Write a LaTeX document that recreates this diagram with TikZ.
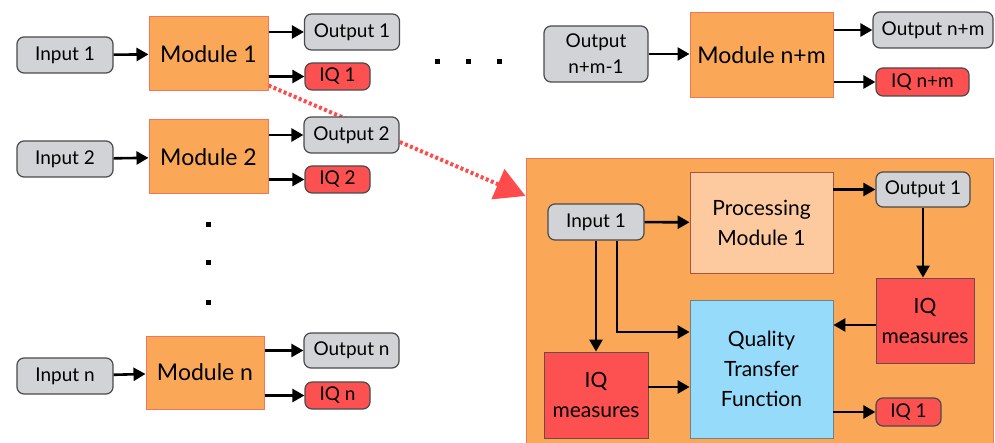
\documentclass[tikz,border=0pt]{standalone}
\usepackage{fontspec}
\setmainfont{Lato}
\usetikzlibrary{arrows.meta,backgrounds}

\definecolor{modfill}{HTML}{FAA858}
\definecolor{modline}{HTML}{F4765A}
\definecolor{datfill}{HTML}{D1D3D7}
\definecolor{datline}{HTML}{4A4A4A}
\definecolor{iqfill}{HTML}{FC5150}
\definecolor{procfill}{HTML}{FDCAA0}
\definecolor{qtffill}{HTML}{97DBFA}
\definecolor{zoomred}{HTML}{FF4B4B}

\begin{document}
\begin{tikzpicture}[x=1pt, y=-1pt,
    every node/.style={inner sep=0pt, align=center},
    module/.style={draw=modline, fill=modfill, line width=1pt, font=\fontsize{23}{28}\selectfont},
    datum/.style={draw=datline, fill=datfill, rounded corners=7pt, line width=1.2pt, font=\fontsize{19}{26}\selectfont},
    iq/.style={datum, fill=iqfill},
    bigiq/.style={draw=datline!80!iqfill, fill=iqfill, line width=0.8pt, font=\fontsize{21}{30}\selectfont},
    flow/.style={-{Triangle[length=12pt,width=13pt]}, line width=2.6pt},
    zoom/.style={-{Triangle[length=30pt,width=32pt]}, zoomred, line width=4pt, dash pattern=on 3pt off 2.5pt}
]
    \useasboundingbox (0,0) rectangle (995,443);

    % Module 1
    \node[datum, minimum width=96pt, minimum height=36pt] (in1) at (65,55) {Input 1};
    \node[module, minimum width=119pt, minimum height=74pt] (mod1) at (208.5,54) {Module 1};
    \node[datum, minimum width=95pt, minimum height=36pt] (out1) at (352,32) {Output 1};
    \node[iq, minimum width=65pt, minimum height=27pt] (iq1) at (337.5,76.5) {IQ 1};
    \draw[flow] (in1) -- (mod1);
    \draw[flow] (mod1.east |- out1) -- (out1);
    \draw[flow] (mod1.east |- iq1) -- (iq1);

    % Module 2
    \node[datum, minimum width=96pt, minimum height=36pt] (in2) at (65,159) {Input 2};
    \node[module, minimum width=119pt, minimum height=74pt] (mod2) at (208.5,157) {Module 2};
    \node[datum, minimum width=95pt, minimum height=36pt] (out2) at (351.5,135) {Output 2};
    \node[iq, minimum width=65pt, minimum height=27pt] (iq2) at (337.5,179.5) {IQ 2};
    \draw[flow] (in2) -- (mod2);
    \draw[flow] (mod2.east |- out2) -- (out2);
    \draw[flow] (mod2.east |- iq2) -- (iq2);

    % dots
    \foreach \y in {225,263,303}
        \fill (206,\y-2.5) rectangle (211,\y+2.5);
    \foreach \x in {437,468,499}
        \fill (\x-2.5,59.5) rectangle (\x+2.5,64.5);

    % Module n
    \node[datum, minimum width=96pt, minimum height=36pt] (inn) at (65,376) {Input n};
    \node[module, minimum width=118pt, minimum height=73pt] (modn) at (205,372.5) {Module n};
    \node[datum, minimum width=95pt, minimum height=35pt] (outn) at (351.5,350.5) {Output n};
    \node[iq, minimum width=65pt, minimum height=27pt] (iqn) at (337.5,395.5) {IQ n};
    \draw[flow] (inn) -- (modn);
    \draw[flow] (modn.east |- outn) -- (outn);
    \draw[flow] (modn.east |- iqn) -- (iqn);

    % Module n+m
    \node[datum, minimum width=104pt, minimum height=56pt] (outnm1) at (596,54) {Output\\n+m-1};
    \node[module, minimum width=143pt, minimum height=85pt] (modnm) at (761.5,55.5) {Module n+m};
    \node[datum, minimum width=120pt, minimum height=36pt] (outnm) at (933,30) {Output n+m};
    \node[iq, minimum width=93pt, minimum height=28pt] (iqnm) at (922.5,82) {IQ n+m};
    \draw[flow] (outnm1) -- (modnm.west |- outnm1);
    \draw[flow] (modnm.east |- outnm) -- (outnm);
    \draw[flow] (modnm.east |- iqnm) -- (iqnm);

    % Inside a module
    \node[fill=modfill, draw=modline, line width=1pt, minimum width=467pt, minimum height=291pt] (detail) at (759.5,304.5) {};
    \node[datum, minimum width=96pt, minimum height=36pt] (dIn) at (596,222) {Input 1};
    \node[module, fill=procfill, draw=modline!70!black, line width=0.8pt, minimum width=143pt, minimum height=101pt,
          font=\fontsize{21}{30}\selectfont] (dProc) at (761.5,222.5) {Processing\\Module 1};
    \node[datum, minimum width=94pt, minimum height=35pt] (dOut) at (923,189.5) {Output 1};
    \node[bigiq, minimum width=98pt, minimum height=85pt] (dIQr) at (925,320.5) {IQ\\measures};
    \node[module, fill=qtffill, draw=datline!60!qtffill, line width=0.8pt, minimum width=143pt, minimum height=138pt,
          font=\fontsize{21}{30}\selectfont] (dQTF) at (761.5,369) {Quality\\Transfer\\Function};
    \node[bigiq, minimum width=104pt, minimum height=86pt] (dIQl) at (596,395) {IQ\\measures};
    \node[iq, minimum width=65pt, minimum height=28pt] (dIQ) at (908.5,412) {IQ 1};

    \draw[flow] (dIn) -- (dProc);
    \draw[flow] (dProc.east |- dOut) -- (dOut);
    \draw[flow] (dOut.south) -- (dOut.south |- dIQr.north);
    \draw[flow] ([yshift=-4.5pt]dIQr.west) -- ([yshift=-4.5pt]dQTF.east |- dIQr.west);
    \draw[flow] (dIn.south) -- (dIn.south |- dIQl.north);
    \draw[flow] ([xshift=21pt]dIn.south) |- ([yshift=37pt]dQTF.west);
    \draw[flow] ([yshift=8pt]dIQl.east) -- ([yshift=-18pt]dQTF.west);
    \draw[flow] (dQTF.east |- dIQ) -- (dIQ);

    % zoom into Module 1
    \begin{scope}[on background layer]
        \draw[zoom] ([yshift=6pt]mod1.south east) -- (detail.west |- 0,196);
    \end{scope}
\end{tikzpicture}
\end{document}
